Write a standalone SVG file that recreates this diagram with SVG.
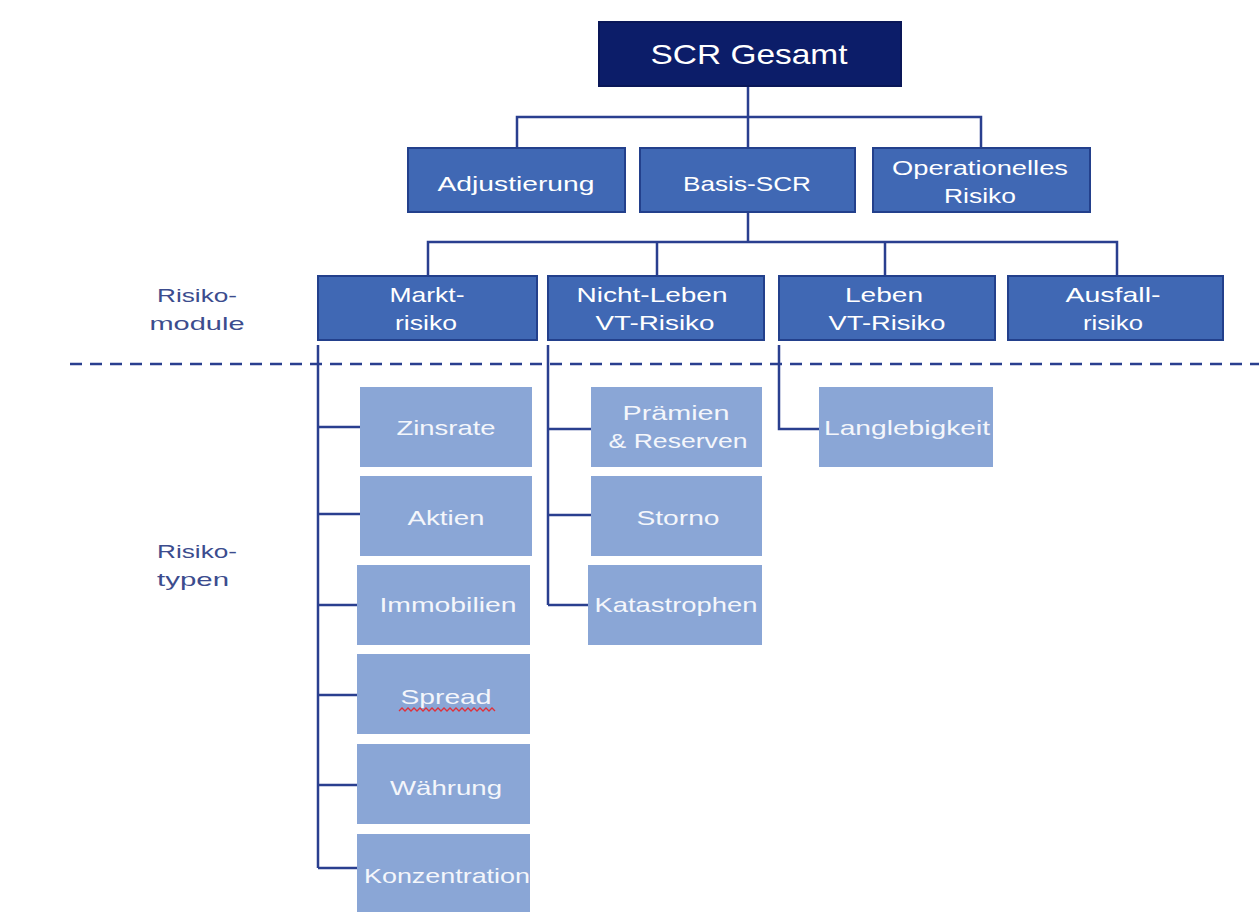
<svg xmlns="http://www.w3.org/2000/svg" width="1259" height="912" viewBox="0 0 1259 912">
<style>
text{font-family:"Liberation Sans",Arial,sans-serif;fill:#fff;text-anchor:middle}
.top{fill:#0c1d69;stroke:#0a1758;stroke-width:2}
.mid{fill:#4068b4;stroke:#23408c;stroke-width:2}
.leaf{fill:#8aa6d6}
.t1{font-size:28px}
.t2{font-size:21px}
.t3{font-size:21px;fill:#f4f6fb}
.side{fill:#3c4c8e;font-size:19px}
.c{fill:none;stroke:#2a3f8f;stroke-width:2.5}
</style>
<rect width="1259" height="912" fill="#fff"/>
<g id="connectors">
<path class="c" d="M748 86V148M517 148V117H981V148"/>
<path class="c" d="M748 212V242M428 276V242H1117V276M657 242V276M885 242V276"/>
<path class="c" d="M318 345V868M318 427H360M318 514H360M318 605H357M318 695H357M318 785H357M318 868H357"/>
<path class="c" d="M548 345V605M548 429H591M548 515H591M548 605H588"/>
<path class="c" d="M779 345V429H819"/>
<line x1="70" y1="364" x2="1259" y2="364" stroke="#2a3f8f" stroke-width="2.5" stroke-dasharray="12 8"/>
</g>
<g id="label-module"><text class="side" x="197" y="302" textLength="80" lengthAdjust="spacingAndGlyphs">Risiko-</text><text class="side" x="197" y="330" textLength="95" lengthAdjust="spacingAndGlyphs">module</text></g>
<g id="label-typen"><text class="side" x="197" y="558" textLength="80" lengthAdjust="spacingAndGlyphs">Risiko-</text><text class="side" x="193" y="586" textLength="72" lengthAdjust="spacingAndGlyphs">typen</text></g>
<g id="n-scr"><rect class="top" x="599" y="22" width="302" height="64"/><text class="t1" x="749" y="64" textLength="197" lengthAdjust="spacingAndGlyphs">SCR Gesamt</text></g>
<g id="n-adj"><rect class="mid" x="408" y="148" width="217" height="64"/><text class="t2" x="516" y="191" textLength="157" lengthAdjust="spacingAndGlyphs">Adjustierung</text></g>
<g id="n-basis"><rect class="mid" x="640" y="148" width="215" height="64"/><text class="t2" x="747" y="191" textLength="128" lengthAdjust="spacingAndGlyphs">Basis-SCR</text></g>
<g id="n-op"><rect class="mid" x="873" y="148" width="217" height="64"/><text class="t2" x="980" y="175" textLength="176" lengthAdjust="spacingAndGlyphs">Operationelles</text><text class="t2" x="980" y="203" textLength="72" lengthAdjust="spacingAndGlyphs">Risiko</text></g>
<g id="n-markt"><rect class="mid" x="318" y="276" width="219" height="64"/><text class="t2" x="427" y="302" textLength="75" lengthAdjust="spacingAndGlyphs">Markt-</text><text class="t2" x="426" y="330" textLength="62" lengthAdjust="spacingAndGlyphs">risiko</text></g>
<g id="n-nl"><rect class="mid" x="548" y="276" width="216" height="64"/><text class="t2" x="652" y="302" textLength="151" lengthAdjust="spacingAndGlyphs">Nicht-Leben</text><text class="t2" x="655" y="330" textLength="119" lengthAdjust="spacingAndGlyphs">VT-Risiko</text></g>
<g id="n-leben"><rect class="mid" x="779" y="276" width="216" height="64"/><text class="t2" x="884" y="302" textLength="78" lengthAdjust="spacingAndGlyphs">Leben</text><text class="t2" x="887" y="330" textLength="117" lengthAdjust="spacingAndGlyphs">VT-Risiko</text></g>
<g id="n-ausfall"><rect class="mid" x="1008" y="276" width="215" height="64"/><text class="t2" x="1113" y="302" textLength="95" lengthAdjust="spacingAndGlyphs">Ausfall-</text><text class="t2" x="1113" y="330" textLength="60" lengthAdjust="spacingAndGlyphs">risiko</text></g>
<g id="n-zins"><rect class="leaf" x="360" y="387" width="172" height="80"/><text class="t3" x="446" y="435" textLength="99" lengthAdjust="spacingAndGlyphs">Zinsrate</text></g>
<g id="n-aktien"><rect class="leaf" x="360" y="476" width="172" height="80"/><text class="t3" x="446" y="525" textLength="77" lengthAdjust="spacingAndGlyphs">Aktien</text></g>
<g id="n-immo"><rect class="leaf" x="357" y="565" width="173" height="80"/><text class="t3" x="448" y="612" textLength="137" lengthAdjust="spacingAndGlyphs">Immobilien</text></g>
<g id="n-spread"><rect class="leaf" x="357" y="654" width="173" height="80"/><text class="t3" x="446" y="704" textLength="91" lengthAdjust="spacingAndGlyphs">Spread</text><path d="M399 711l3-3 3 3 3-3 3 3 3-3 3 3 3-3 3 3 3-3 3 3 3-3 3 3 3-3 3 3 3-3 3 3 3-3 3 3 3-3 3 3 3-3 3 3 3-3 3 3 3-3 3 3 3-3 3 3 3-3 3 3 3-3 3 3" fill="none" stroke="#e0303a" stroke-width="1.3"/></g>
<g id="n-wahr"><rect class="leaf" x="357" y="744" width="173" height="80"/><text class="t3" x="446" y="795" textLength="112" lengthAdjust="spacingAndGlyphs">Währung</text></g>
<g id="n-konz"><rect class="leaf" x="357" y="834" width="173" height="78"/><text class="t3" x="447" y="883" textLength="166" lengthAdjust="spacingAndGlyphs">Konzentration</text></g>
<g id="n-praem"><rect class="leaf" x="591" y="387" width="171" height="80"/><text class="t3" x="676" y="420" textLength="107" lengthAdjust="spacingAndGlyphs">Prämien</text><text class="t3" x="678" y="448" textLength="139" lengthAdjust="spacingAndGlyphs">&amp; Reserven</text></g>
<g id="n-storno"><rect class="leaf" x="591" y="476" width="171" height="80"/><text class="t3" x="678" y="525" textLength="83" lengthAdjust="spacingAndGlyphs">Storno</text></g>
<g id="n-kata"><rect class="leaf" x="588" y="565" width="174" height="80"/><text class="t3" x="676" y="612" textLength="163" lengthAdjust="spacingAndGlyphs">Katastrophen</text></g>
<g id="n-lang"><rect class="leaf" x="819" y="387" width="174" height="80"/><text class="t3" x="907" y="435" textLength="166" lengthAdjust="spacingAndGlyphs">Langlebigkeit</text></g>
</svg>
